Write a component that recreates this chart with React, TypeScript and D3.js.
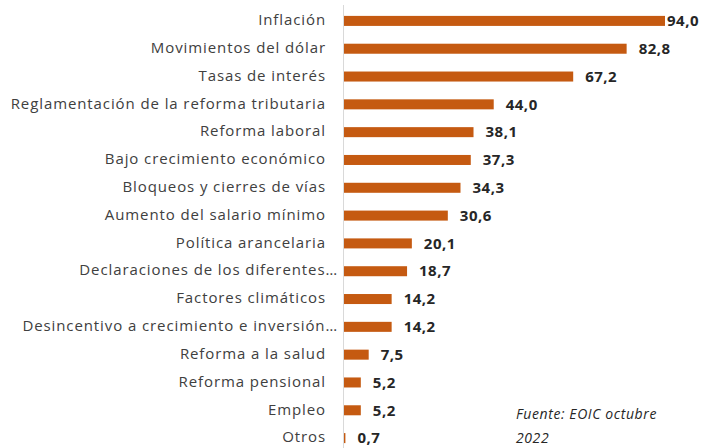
import React, { useRef, useEffect } from "react";
import * as d3 from "d3";

const categories = [
  "Inflación",
  "Movimientos del dólar",
  "Tasas de interés",
  "Reglamentación de la reforma tributaria",
  "Reforma laboral",
  "Bajo crecimiento económico",
  "Bloqueos y cierres de vías",
  "Aumento del salario mínimo",
  "Política arancelaria",
  "Declaraciones de los diferentes…",
  "Factores climáticos",
  "Desincentivo a crecimiento e inversión…",
  "Reforma a la salud",
  "Reforma pensional",
  "Empleo",
  "Otros",
];

const values = [94.0, 82.8, 67.2, 44.0, 38.1, 37.3, 34.3, 30.6, 20.1, 18.7, 14.2, 14.2, 7.5, 5.2, 5.2, 0.7];

const sourceLines = ["Fuente: EOIC octubre", "2022"];

const App = () => {
  const chartRef = useRef(null);

  useEffect(() => {
    const container = d3.select(chartRef.current);
    container.select("svg").remove();

    const width = 702;
    const height = 448;
    const axisX = 343;
    const barColor = "#C55A11";
    const font = "'Open Sans', sans-serif";

    const data = categories.map((c, i) => ({ label: c, value: values[i] }));

    const x = d3.scaleLinear().domain([0, 94]).range([axisX, 665]);
    const y = d3
      .scaleBand()
      .domain(categories)
      .range([7, 452])
      .paddingInner(0.64)
      .paddingOuter(0.32);

    const svg = container
      .append("svg")
      .attr("width", width)
      .attr("height", height)
      .style("position", "absolute")
      .style("left", 0)
      .style("top", 0)
      .style("background", "#fff");

    svg
      .selectAll(".bar")
      .data(data)
      .enter()
      .append("rect")
      .attr("class", "bar")
      .attr("x", x(0) + 1)
      .attr("y", (d) => y(d.label))
      .attr("width", (d) => Math.max(x(d.value) - x(0) - 1, 1))
      .attr("height", y.bandwidth())
      .style("fill", barColor);

    svg
      .append("line")
      .attr("x1", axisX + 0.5)
      .attr("x2", axisX + 0.5)
      .attr("y1", 5)
      .attr("y2", height)
      .style("stroke", "#d9d9d9")
      .style("stroke-width", 1);

    svg
      .selectAll(".cat")
      .data(data)
      .enter()
      .append("text")
      .attr("class", "cat")
      .attr("x", (d) => (d.label.endsWith("…") ? 338 : 326))
      .attr("y", (d) => y(d.label) + y.bandwidth() / 2 - 1)
      .attr("dy", "0.35em")
      .attr("text-anchor", "end")
      .style("font-family", font)
      .style("font-size", "15px")
      .style("letter-spacing", "0.9px")
      .style("fill", "#404040")
      .text((d) => d.label);

    svg
      .selectAll(".val")
      .data(data)
      .enter()
      .append("text")
      .attr("class", "val")
      .attr("x", (d) => Math.min(x(d.value) + 12, 667))
      .attr("y", (d) => y(d.label) + y.bandwidth() / 2)
      .attr("dy", "0.35em")
      .style("font-family", font)
      .style("font-size", "15px")
      .style("letter-spacing", "0.5px")
      .style("font-weight", "bold")
      .style("fill", "#262626")
      .text((d) => d3.format(".1f")(d.value).replace(".", ","));

    svg
      .selectAll(".src")
      .data(sourceLines)
      .enter()
      .append("text")
      .attr("class", "src")
      .attr("x", 516)
      .attr("y", (_, i) => 419 + i * 24)
      .style("font-family", font)
      .style("font-size", "14px")
      .style("letter-spacing", "0.6px")
      .style("font-style", "italic")
      .style("fill", "#262626")
      .text((d) => d);
  }, []);

  return <div ref={chartRef}></div>;
};

export default App;
